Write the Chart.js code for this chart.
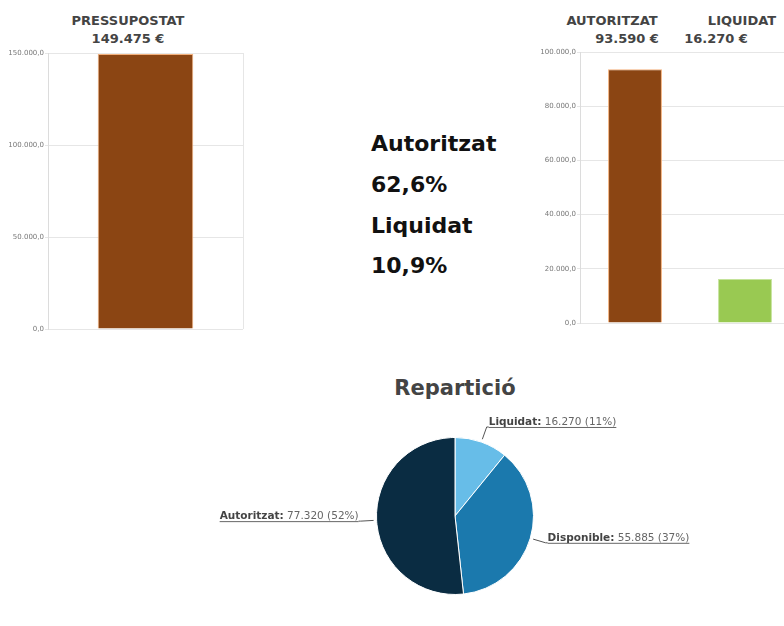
<!DOCTYPE html>
<html>
<head>
<meta charset="utf-8">
<script src="https://cdn.jsdelivr.net/npm/chart.js@4.4.1/dist/chart.umd.min.js"></script>
<style>
  html, body { margin:0; padding:0; background:#fff; width:784px; height:626px; overflow:hidden; }
  body { position:relative; font-family:"DejaVu Sans", Verdana, sans-serif; }
  canvas { position:absolute; }
  .t { position:absolute; font-weight:bold; color:#444; white-space:nowrap; transform:translateX(-50%); }
  .h { font-size:13px; }
  .big { position:absolute; left:371px; font-weight:bold; font-size:22px; color:#111; white-space:nowrap; }
</style>
</head>
<body>
<div class="t h" style="left:128px; top:13px;" id="tBudgetName"></div>
<div class="t h" style="left:128px; top:31px;" id="tBudgetVal"></div>
<div class="t h" style="left:612px; top:13px;" id="tAuthName"></div>
<div class="t h" style="left:627px; top:31px;" id="tAuthVal"></div>
<div class="t h" style="left:742px; top:13px;" id="tLiqName"></div>
<div class="t h" style="left:716px; top:31px;" id="tLiqVal"></div>

<div class="big" style="top:131px;" id="c1"></div>
<div class="big" style="top:172px;" id="c2"></div>
<div class="big" style="top:213px;" id="c3"></div>
<div class="big" style="top:253px;" id="c4"></div>

<div class="t" style="left:455px; top:376px; font-size:21px;" id="pieTitle">Repartició</div>

<canvas id="left" width="260" height="345" style="left:0; top:0;"></canvas>
<canvas id="right" width="270" height="345" style="left:530px; top:0;"></canvas>
<canvas id="pie" width="520" height="220" style="left:200px; top:400px;"></canvas>

<script>
// ---- data ----
const budgetLabels = ['PRESSUPOSTAT'];
const budgetValues = [149475];
const execLabels = ['AUTORITZAT', 'LIQUIDAT'];
const execValues = [93590, 16270];
const pieLabels = ['Liquidat', 'Disponible', 'Autoritzat'];
const pieValues = [16270, 55885, 77320];
const leftTickMax = 150000, leftTickStep = 50000;
const rightTickMax = 100000, rightTickStep = 20000;

// ---- formatting ----
function thousands(n) {
  return String(Math.round(n)).replace(/\B(?=(\d{3})+(?!\d))/g, '.');
}
function tickFmt(v) { return thousands(v) + ',0'; }
function pct1(v) { return (Math.round(v * 1000) / 10).toFixed(1).replace('.', ',') + '%'; }

document.getElementById('tBudgetName').textContent = budgetLabels[0];
document.getElementById('tBudgetVal').textContent = thousands(budgetValues[0]) + ' €';
document.getElementById('tAuthName').textContent = execLabels[0];
document.getElementById('tAuthVal').textContent = thousands(execValues[0]) + ' €';
document.getElementById('tLiqName').textContent = execLabels[1];
document.getElementById('tLiqVal').textContent = thousands(execValues[1]) + ' €';
document.getElementById('c1').textContent = 'Autoritzat';
document.getElementById('c2').textContent = pct1(execValues[0] / budgetValues[0]);
document.getElementById('c3').textContent = 'Liquidat';
document.getElementById('c4').textContent = pct1(execValues[1] / budgetValues[0]);

Chart.defaults.font.family = '"DejaVu Sans", Verdana, sans-serif';
Chart.defaults.animation = false;

const gridColor = '#e6e6e6';

function barOptions(max, step, yWidth, padding, xGrid) {
  return {
    responsive: false,
    devicePixelRatio: 1,
    animation: false,
    layout: { padding: padding },
    plugins: { legend: { display: false }, tooltip: { enabled: false } },
    scales: {
      x: {
        display: true,
        offset: true,
        ticks: { display: false },
        grid: { display: xGrid, color: gridColor, drawTicks: false },
        border: { display: false },
        afterFit: s => { s.height = 0; }
      },
      y: {
        min: 0, max: max,
        ticks: { stepSize: step, callback: tickFmt, color: '#777', font: { size: 7 }, padding: 1 },
        grid: { color: gridColor, tickLength: 3 },
        border: { color: '#dcdcdc' },
        afterFit: s => { s.width = yWidth; }
      }
    }
  };
}

new Chart(document.getElementById('left'), {
  type: 'bar',
  data: {
    labels: budgetLabels,
    datasets: [{
      data: budgetValues,
      backgroundColor: '#8b4513',
      borderColor: '#f2b07c',
      borderWidth: 1,
      barPercentage: 0.49,
      categoryPercentage: 1
    }]
  },
  options: barOptions(leftTickMax, leftTickStep, 48, { top: 53, right: 17, bottom: 16, left: 0 }, true)
});

new Chart(document.getElementById('right'), {
  type: 'bar',
  data: {
    labels: execLabels,
    datasets: [{
      data: execValues,
      backgroundColor: ['#8b4513', '#99c952'],
      borderColor: ['#f2b07c', '#c4e39a'],
      borderWidth: 1,
      barPercentage: 0.49,
      categoryPercentage: 1
    }]
  },
  options: barOptions(rightTickMax, rightTickStep, 50, { top: 52, right: 0, bottom: 22, left: 0 }, false)
});

const total = pieValues.reduce((a, b) => a + b, 0);

const pieLabelPlugin = {
  id: 'pieLabels',
  afterDatasetsDraw(chart) {
    const ctx = chart.ctx;
    const meta = chart.getDatasetMeta(0);
    const boldFont = 'bold 10.5px "DejaVu Sans", Verdana, sans-serif';
    const regFont = '10.5px "DejaVu Sans", Verdana, sans-serif';
    meta.data.forEach((arc, i) => {
      const p = arc.getProps(['x', 'y', 'startAngle', 'endAngle', 'outerRadius'], true);
      const mid = (p.startAngle + p.endAngle) / 2;
      const c = Math.cos(mid), s = Math.sin(mid);
      const e = { x: p.x + c * (p.outerRadius + 3), y: p.y + s * (p.outerRadius + 3) };
      const q = { x: p.x + c * (p.outerRadius + 16), y: p.y + s * (p.outerRadius + 16) };
      const right = c >= 0;
      const boldTxt = pieLabels[i] + ':';
      const regTxt = ' ' + thousands(pieValues[i]) + ' (' + Math.round(pieValues[i] / total * 100) + '%)';
      ctx.save();
      ctx.font = boldFont;
      const wb = ctx.measureText(boldTxt).width;
      ctx.font = regFont;
      const wr = ctx.measureText(regTxt).width;
      const w = wb + wr;
      const gap = 2;
      const x0 = right ? q.x + gap : q.x - gap - w;
      const base = q.y - 2;
      // leader line
      ctx.strokeStyle = '#555';
      ctx.lineWidth = 1;
      ctx.beginPath();
      ctx.moveTo(e.x, e.y);
      ctx.lineTo(q.x, q.y);
      ctx.lineTo(right ? q.x + gap : q.x - gap, q.y);
      ctx.stroke();
      // underline
      ctx.beginPath();
      ctx.moveTo(x0, q.y + 0.5);
      ctx.lineTo(x0 + w, q.y + 0.5);
      ctx.strokeStyle = '#666';
      ctx.stroke();
      ctx.textBaseline = 'alphabetic';
      ctx.textAlign = 'left';
      ctx.fillStyle = '#444';
      ctx.font = boldFont;
      ctx.fillText(boldTxt, x0, base);
      ctx.fillStyle = '#666';
      ctx.font = regFont;
      ctx.fillText(regTxt, x0 + wb, base);
      ctx.restore();
    });
  }
};

new Chart(document.getElementById('pie'), {
  type: 'pie',
  data: {
    labels: pieLabels,
    datasets: [{
      data: pieValues,
      backgroundColor: ['#67bde8', '#1b79ad', '#0a2c42'],
      borderColor: '#ffffff',
      borderWidth: 1
    }]
  },
  options: {
    responsive: false,
    devicePixelRatio: 1,
    animation: false,
    layout: { padding: { left: 176, right: 186, top: 37, bottom: 25 } },
    plugins: { legend: { display: false }, tooltip: { enabled: false } }
  },
  plugins: [pieLabelPlugin]
});
</script>
</body>
</html>
